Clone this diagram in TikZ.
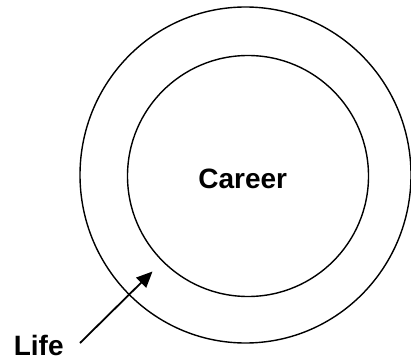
\documentclass[tikz,border=0pt]{standalone}
\usepackage{fontspec}
\setmainfont{Liberation Sans}
\usetikzlibrary{arrows.meta,shapes.geometric}
\begin{document}
\begin{tikzpicture}[x=1pt,y=-1pt,
  ring/.style={draw,line width=1.4pt,inner sep=0pt},
  lbl/.style={font=\fontsize{28}{32}\selectfont\bfseries,inner sep=0pt,anchor=base},
  pointer/.style={line width=1.8pt,-{Triangle[length=16pt,width=14pt]}}]
\useasboundingbox (0,0) rectangle (411,363);
\node[ring,ellipse,minimum width=331pt,minimum height=336pt] (outer) at (245.5,175) {};
\node[ring,circle,minimum size=241pt] (inner) at (248,176) {};
\node[lbl] (career) at (242.7,188.3) {Career};
\node[lbl] (life) at (38.7,355.7) {Life};
\coordinate (from) at (80,343);
\coordinate (tip) at (152.5,271.5);
\draw[pointer] (from) -- (tip);
\end{tikzpicture}
\end{document}
